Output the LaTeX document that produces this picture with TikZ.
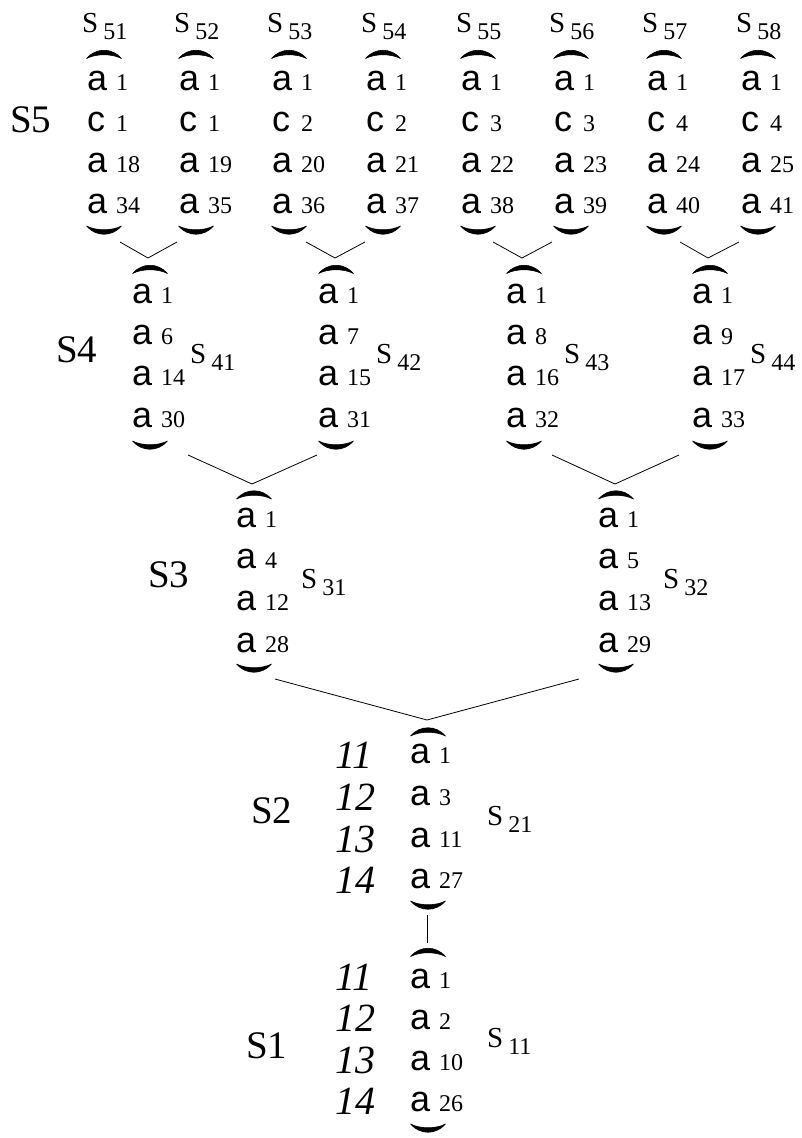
\documentclass[tikz,border=0pt]{standalone}
\usepackage{fontspec}
\setmainfont{Liberation Serif}
\newfontfamily\asans{Liberation Sans}
\newcommand\myel[2]{\makebox[20pt][l]{\asans\fontsize{36}{36}\selectfont #1}\kern9pt{\fontsize{24}{24}\selectfont #2}}
\newcommand\slab[2]{{\fontsize{29}{29}\selectfont #1}\kern5pt\raisebox{-7pt}{\fontsize{24}{24}\selectfont #2}}
\tikzset{
  elt/.style={inner sep=0pt, anchor=base west},
  slabel/.style={inner sep=0pt, anchor=base west},
  biglab/.style={inner sep=0pt, anchor=base west, font=\fontsize{39}{39}\selectfont},
  itnum/.style={inner sep=0pt, anchor=base west, font=\fontsize{40}{40}\selectfont\itshape},
  conn/.style={line width=0.8pt},
  toparc/.pic={\filldraw[line width=0.6pt, line join=round] (-17.5,5) .. controls (-8,-6) and (8,-6) .. (17.5,5) .. controls (8,0) and (-8,0) .. (-17.5,5) -- cycle;},
  botarc/.pic={\filldraw[line width=0.6pt, line join=round] (-17.5,-5) .. controls (-8,6) and (8,6) .. (17.5,-5) .. controls (8,0) and (-8,0) .. (-17.5,-5) -- cycle;}
}
\begin{document}
\begin{tikzpicture}[x=1pt, y=-1pt]
\useasboundingbox (0,0) rectangle (802,1138);
% ---------- S5 ----------
\node[biglab] (S5) at (10,132) {S5};
\foreach \i/\x/\c/\p/\q in {1/88/1/18/34, 2/180/1/19/35, 3/273/2/20/36, 4/367/2/21/37, 5/462/3/22/38, 6/555/3/23/39, 7/648/4/24/40, 8/742/4/25/41} {
  \node[slabel] (s5\i) at (\x-6,32) {\slab{S}{5\i}};
  \pic at (\x+16,53.5) {toparc};
  \node[elt] (s5\i a) at (\x-1,90) {\myel{a}{1}};
  \node[elt] (s5\i b) at (\x-1,131) {\myel{c}{\c}};
  \node[elt] (s5\i c) at (\x-1,172) {\myel{a}{\p}};
  \node[elt] (s5\i d) at (\x-1,213) {\myel{a}{\q}};
  \pic at (\x+16,231) {botarc};
}
% ---------- S4 ----------
\node[biglab] (S4) at (56,362) {S4};
\foreach \i/\x/\p/\q/\r in {1/133/6/14/30, 2/319/7/15/31, 3/507/8/16/32, 4/693/9/17/33} {
  \pic at (\x+17,268.5) {toparc};
  \node[elt] (s4\i a) at (\x-1,303) {\myel{a}{1}};
  \node[elt] (s4\i b) at (\x-1,344) {\myel{a}{\p}};
  \node[elt] (s4\i c) at (\x-1,385) {\myel{a}{\q}};
  \node[elt] (s4\i d) at (\x-1,427) {\myel{a}{\r}};
  \node[slabel] (s4\i) at (\x+57,363) {\slab{S}{4\i}};
  \pic at (\x+17,446) {botarc};
}
% ---------- S3 ----------
\node[biglab] (S3) at (148,587) {S3};
\foreach \i/\x/\p/\q/\r in {1/237/4/12/28, 2/599/5/13/29} {
  \pic at (\x+17,494) {toparc};
  \node[elt] (s3\i a) at (\x-1,527) {\myel{a}{1}};
  \node[elt] (s3\i b) at (\x-1,568) {\myel{a}{\p}};
  \node[elt] (s3\i c) at (\x-1,610) {\myel{a}{\q}};
  \node[elt] (s3\i d) at (\x-1,652) {\myel{a}{\r}};
  \node[slabel] (s3\i) at (\x+64,588) {\slab{S}{3\i}};
  \pic at (\x+17,669) {botarc};
}
% ---------- S2 ----------
\node[biglab] (S2) at (251,823) {S2};
\pic at (428,731) {toparc};
\node[elt] (s21a) at (410,763) {\myel{a}{1}};
\node[elt] (s21b) at (410,805) {\myel{a}{3}};
\node[elt] (s21c) at (410,847) {\myel{a}{11}};
\node[elt] (s21d) at (410,888) {\myel{a}{27}};
\node[itnum] (l21) at (335,768) {11};
\node[itnum] (l22) at (335,810) {12};
\node[itnum] (l23) at (335,852) {13};
\node[itnum] (l24) at (335,893) {14};
\node[slabel] (s21) at (487,825) {\slab{S}{21}};
\pic at (428,906) {botarc};
% ---------- S1 ----------
\node[biglab] (S1) at (246,1058) {S1};
\pic at (428,951.5) {toparc};
\node[elt] (s11a) at (410,988) {\myel{a}{1}};
\node[elt] (s11b) at (410,1029) {\myel{a}{2}};
\node[elt] (s11c) at (410,1070) {\myel{a}{10}};
\node[elt] (s11d) at (410,1111) {\myel{a}{26}};
\node[itnum] (l11) at (335,990) {11};
\node[itnum] (l12) at (335,1031) {12};
\node[itnum] (l13) at (335,1073) {13};
\node[itnum] (l14) at (335,1114) {14};
\node[slabel] (s11) at (487,1047) {\slab{S}{11}};
\pic at (428,1129) {botarc};
% ---------- connector points ----------
\coordinate (e51) at (120,242); \coordinate (e52) at (177,242);
\coordinate (e53) at (306,242); \coordinate (e54) at (365,242);
\coordinate (e55) at (493,242); \coordinate (e56) at (552,242);
\coordinate (e57) at (680,242); \coordinate (e58) at (739,242);
\coordinate (t41) at (148,258); \coordinate (t42) at (335,258);
\coordinate (t43) at (522,258); \coordinate (t44) at (708,258);
\coordinate (e41) at (188,455); \coordinate (e42) at (317,455);
\coordinate (e43) at (552,455); \coordinate (e44) at (679,455);
\coordinate (t31) at (252,484); \coordinate (t32) at (615,484);
\coordinate (e31) at (275,679); \coordinate (e32) at (579,679);
\coordinate (t21) at (427,720);
\coordinate (e21) at (427,915);
\coordinate (t11) at (427,943);
% ---------- connectors ----------
\draw[conn] (e51) -- (t41) -- (e52);
\draw[conn] (e53) -- (t42) -- (e54);
\draw[conn] (e55) -- (t43) -- (e56);
\draw[conn] (e57) -- (t44) -- (e58);
\draw[conn] (e41) -- (t31) -- (e42);
\draw[conn] (e43) -- (t32) -- (e44);
\draw[conn] (e31) -- (t21) -- (e32);
\draw[conn] (e21) -- (t11);
\end{tikzpicture}
\end{document}
